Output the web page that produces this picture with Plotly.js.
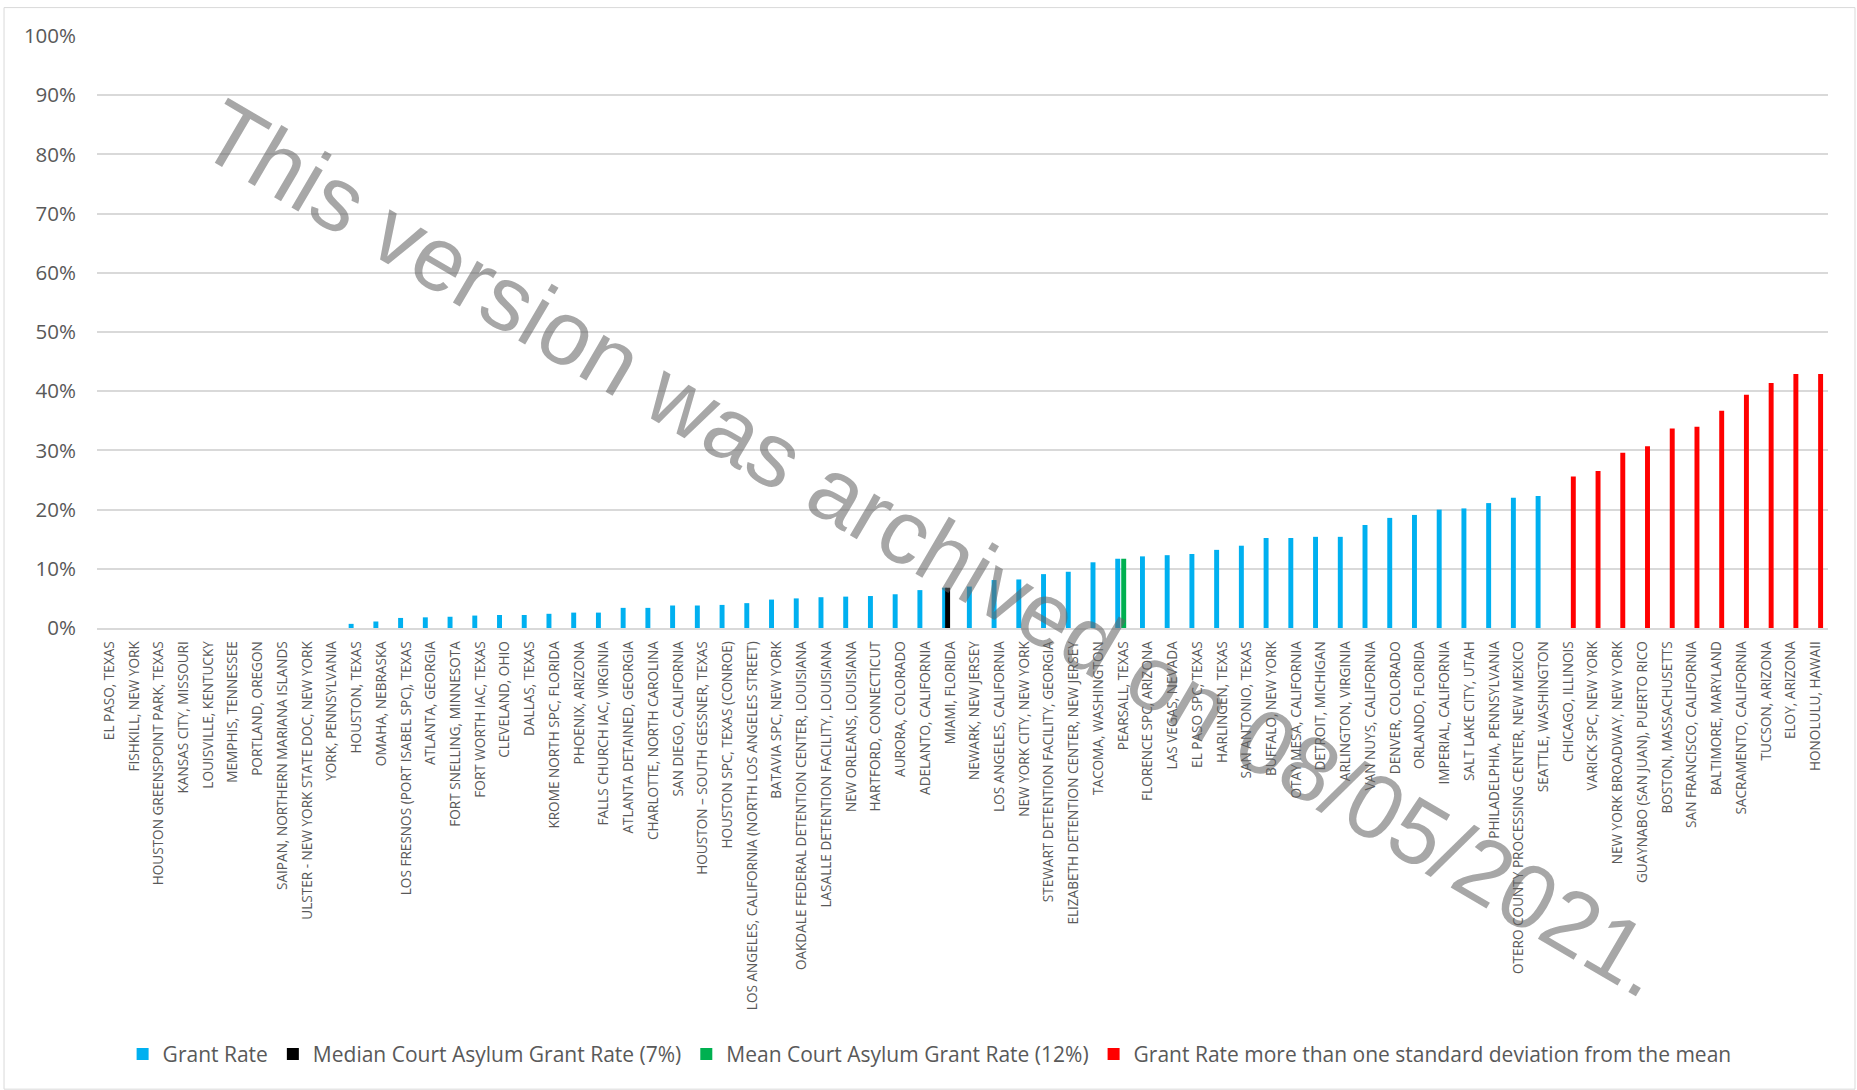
<!DOCTYPE html>
<html>
<head>
<meta charset="utf-8">
<script src="https://cdn.plot.ly/plotly-3.0.1.min.js"></script>
<style>html,body{margin:0;padding:0;background:#fff;}#chart{width:1857px;height:1090px;}</style>
</head>
<body>
<div id="chart"></div>
<script>
// Locations with a grant rate within one standard deviation of the mean (blue)
const grantRateCats = [
  "EL PASO, TEXAS","FISHKILL, NEW YORK","HOUSTON GREENSPOINT PARK, TEXAS","KANSAS CITY, MISSOURI",
  "LOUISVILLE, KENTUCKY","MEMPHIS, TENNESSEE","PORTLAND, OREGON","SAIPAN, NORTHERN MARIANA ISLANDS",
  "ULSTER - NEW YORK STATE DOC, NEW YORK","YORK, PENNSYLVANIA","HOUSTON, TEXAS","OMAHA, NEBRASKA",
  "LOS FRESNOS (PORT ISABEL SPC), TEXAS","ATLANTA, GEORGIA","FORT SNELLING, MINNESOTA","FORT WORTH IAC, TEXAS",
  "CLEVELAND, OHIO","DALLAS, TEXAS","KROME NORTH SPC, FLORIDA","PHOENIX, ARIZONA",
  "FALLS CHURCH IAC, VIRGINIA","ATLANTA DETAINED, GEORGIA","CHARLOTTE, NORTH CAROLINA","SAN DIEGO, CALIFORNIA",
  "HOUSTON – SOUTH GESSNER, TEXAS","HOUSTON SPC, TEXAS (CONROE)","LOS ANGELES, CALIFORNIA (NORTH LOS ANGELES STREET)",
  "BATAVIA SPC, NEW YORK","OAKDALE FEDERAL DETENTION CENTER, LOUISIANA","LASALLE DETENTION FACILITY, LOUISIANA",
  "NEW ORLEANS, LOUISIANA","HARTFORD, CONNECTICUT","AURORA, COLORADO","ADELANTO, CALIFORNIA",
  "MIAMI, FLORIDA","NEWARK, NEW JERSEY","LOS ANGELES, CALIFORNIA","NEW YORK CITY, NEW YORK",
  "STEWART DETENTION FACILITY, GEORGIA","ELIZABETH DETENTION CENTER, NEW JERSEY","TACOMA, WASHINGTON",
  "PEARSALL, TEXAS","FLORENCE SPC, ARIZONA","LAS VEGAS, NEVADA","EL PASO SPC, TEXAS","HARLINGEN, TEXAS",
  "SAN ANTONIO, TEXAS","BUFFALO, NEW YORK","OTAY MESA, CALIFORNIA","DETROIT, MICHIGAN","ARLINGTON, VIRGINIA",
  "VAN NUYS, CALIFORNIA","DENVER, COLORADO","ORLANDO, FLORIDA","IMPERIAL, CALIFORNIA","SALT LAKE CITY, UTAH",
  "PHILADELPHIA, PENNSYLVANIA","OTERO COUNTY PROCESSING CENTER, NEW MEXICO","SEATTLE, WASHINGTON"
];
const grantRateVals = [
  0,0,0,0,0,0,0,0,0,0,
  0.007,0.011,0.017,0.018,0.019,0.021,0.022,0.022,0.024,0.026,
  0.026,0.034,0.034,0.038,0.038,0.039,0.042,0.048,0.050,0.052,
  0.053,0.054,0.057,0.064,0.068,0.070,0.081,0.082,0.091,0.095,
  0.111,0.117,0.121,0.123,0.125,0.132,0.139,0.152,0.152,0.154,
  0.154,0.174,0.186,0.191,0.200,0.202,0.211,0.220,0.223
];
// Grant rate more than one standard deviation from the mean (red)
const outlierCats = [
  "CHICAGO, ILLINOIS","VARICK SPC, NEW YORK","NEW YORK BROADWAY, NEW YORK","GUAYNABO (SAN JUAN), PUERTO RICO",
  "BOSTON, MASSACHUSETTS","SAN FRANCISCO, CALIFORNIA","BALTIMORE, MARYLAND","SACRAMENTO, CALIFORNIA",
  "TUCSON, ARIZONA","ELOY, ARIZONA","HONOLULU, HAWAII"
];
const outlierVals = [0.256,0.265,0.296,0.307,0.337,0.340,0.367,0.394,0.414,0.429,0.429];
// Median and mean markers
const medianCat = ["MIAMI, FLORIDA"];
const medianVal = [0.068];
const meanCat = ["PEARSALL, TEXAS"];
const meanVal = [0.117];
const yTickVals = [0,0.1,0.2,0.3,0.4,0.5,0.6,0.7,0.8,0.9,1.0];

const allCats = grantRateCats.concat(outlierCats);
const BW = 0.2;

const traces = [
  {type:'bar', name:'Grant Rate', x:grantRateCats, y:grantRateVals, width:BW, offset:-0.323,
   marker:{color:'#00b0f0', line:{width:0}}},
  {type:'bar', name:'Median Court Asylum Grant Rate (7%)', x:medianCat, y:medianVal, width:BW, offset:-0.202,
   marker:{color:'#000000', line:{width:0}}},
  {type:'bar', name:'Mean Court Asylum Grant Rate (12%)', x:meanCat, y:meanVal, width:BW, offset:-0.081,
   marker:{color:'#00b050', line:{width:0}}},
  {type:'bar', name:'Grant Rate more than one standard deviation from the mean', x:outlierCats, y:outlierVals, width:BW, offset:0.101,
   marker:{color:'#ff0000', line:{width:0}}}
];

const layout = {
  width:1857, height:1090,
  margin:{l:97, r:29, t:36, b:462},
  paper_bgcolor:'#ffffff', plot_bgcolor:'#ffffff',
  font:{family:'"Open Sans", "Noto Sans", sans-serif', color:'#595959'},
  barmode:'overlay',
  showlegend:true,
  legend:{orientation:'h', x:0.481, xanchor:'center', y:-0.72, yanchor:'middle',
          font:{size:21, color:'#595959'}, bgcolor:'rgba(0,0,0,0)', traceorder:'normal'},
  xaxis:{type:'category', categoryorder:'array', categoryarray:allCats, range:[-0.5, allCats.length-0.5],
         tickangle:-90, tickfont:{size:13.6, color:'#595959'}, showgrid:false,
         showline:true, linecolor:'#d9d9d9', linewidth:1.5, ticks:'', ticklabelstandoff:6, fixedrange:true},
  yaxis:{range:[0,1], tickvals:yTickVals, tickformat:'.0%', tickfont:{size:20.5, color:'#595959'},
         showgrid:true, gridcolor:'#d9d9d9', gridwidth:1.5, zeroline:false, showline:false, ticks:'',
         ticklabelstandoff:20, fixedrange:true},
  shapes:[
    {type:'rect', xref:'paper', yref:'paper', x0:-0.0537, x1:1.0156, y0:-0.779, y1:1.048,
     line:{color:'#d9d9d9', width:1}, fillcolor:'rgba(0,0,0,0)', layer:'below'}
  ],
  annotations:[
    {text:'This version was archived on 08/05/2021.', xref:'paper', yref:'paper', x:0.484, y:0.134,
     xanchor:'center', yanchor:'middle', showarrow:false, textangle:30.4,
     font:{family:'"Liberation Sans", Arial, sans-serif', size:91, color:'rgba(100,100,100,0.57)'}}
  ]
};

Plotly.newPlot('chart', traces, layout, {displayModeBar:false, responsive:false});
</script>
</body>
</html>
